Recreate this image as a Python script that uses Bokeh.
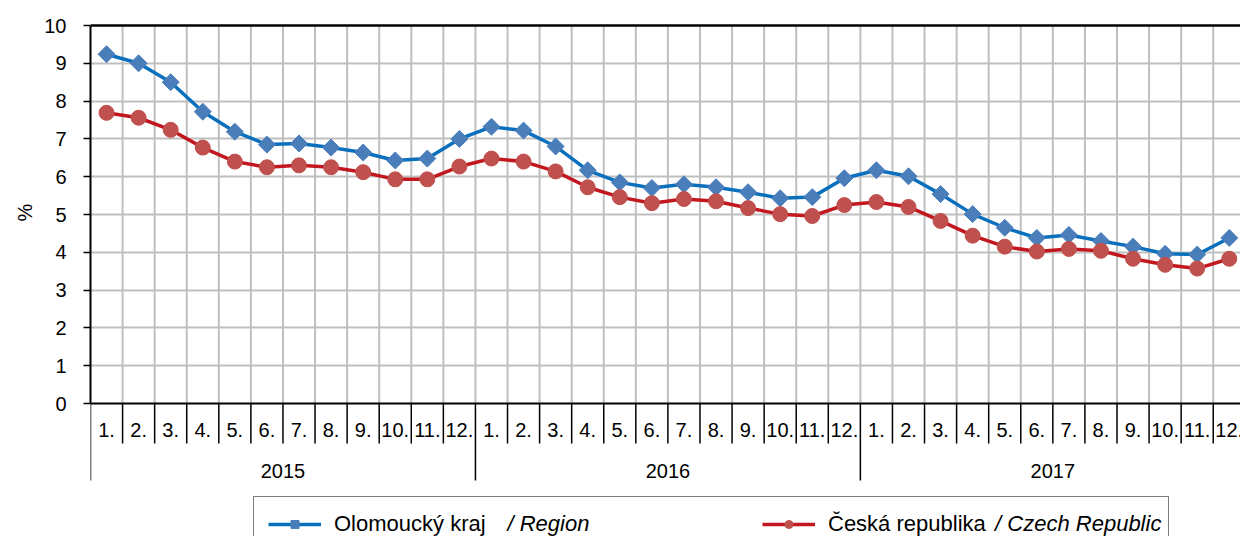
from bokeh.plotting import figure
from bokeh.models import (Range1d, FixedTicker, LinearAxis, ColumnDataSource, LabelSet,
                          Legend, LegendItem, Span, Grid, Title)
from bokeh.embed import file_html
from bokeh.resources import INLINE
from bokeh.core.properties import value
import math

# ---------------- data ----------------
years = ["2015", "2016", "2017"]
months = ["1.", "2.", "3.", "4.", "5.", "6.", "7.", "8.", "9.", "10.", "11.", "12."]

olomoucky = [9.24, 9.00, 8.50, 7.72, 7.19, 6.85, 6.88, 6.77, 6.64, 6.43, 6.48, 7.00,
             7.32, 7.22, 6.80, 6.17, 5.85, 5.70, 5.80, 5.72, 5.59, 5.43, 5.46, 5.96,
             6.17, 6.01, 5.54, 5.01, 4.65, 4.38, 4.46, 4.30, 4.15, 3.96, 3.94, 4.38]
ceska = [7.69, 7.56, 7.24, 6.77, 6.40, 6.25, 6.30, 6.25, 6.12, 5.93, 5.93, 6.27,
         6.48, 6.40, 6.14, 5.72, 5.46, 5.30, 5.41, 5.35, 5.17, 5.01, 4.96, 5.25,
         5.33, 5.20, 4.83, 4.44, 4.15, 4.02, 4.09, 4.04, 3.83, 3.67, 3.57, 3.83]

series_names = ["Olomoucký kraj  ", "Česká republika  "]
series_notes = ["/ Region", "/ Czech Republic"]
y_label = "%"

FONT = "Liberation Sans"
BLUE_LINE = "#0A70BE"
BLUE_MARK = "#4A7EBB"
RED_LINE = "#C3171F"
RED_MARK = "#C0504D"
GRID = "#BFBFBF"

n = len(olomoucky)
idx = list(range(n))
PX = 37.8  # pixels per y unit (style constant for below-axis decorations)

p = figure(width=1240, height=536, output_backend="svg", toolbar_location=None,
           x_range=Range1d(-0.5, 35.35), y_range=Range1d(-3.518, 10.053),
           min_border_left=90, min_border_right=0, min_border_top=23, min_border_bottom=0,
           x_axis_type=None, y_axis_type=None)
p.outline_line_color = None
p.background_fill_color = "white"
p.border_fill_color = "white"

# y axis (only from 0 to 10)
yax = LinearAxis(ticker=FixedTicker(ticks=list(range(0, 11))), bounds=(0, 10))
yax.axis_line_color = "black"
yax.axis_line_width = 2
yax.major_tick_line_color = "black"
yax.major_tick_line_width = 1.5
yax.major_tick_out = 7
yax.major_tick_in = 0
yax.minor_tick_line_color = None
yax.major_label_text_font = FONT
yax.major_label_text_font_size = "20px"
yax.major_label_text_color = "black"
yax.major_label_standoff = 17
p.add_layout(yax, "left")

# y axis title, placed beside the middle of the 0..10 span
p.add_layout(Title(text=y_label, align="left", offset=315, standoff=12,
                   text_font=FONT, text_font_size="20px", text_font_style="normal",
                   text_color="black"), "left")

# horizontal grid
p.add_layout(Grid(dimension=1, ticker=FixedTicker(ticks=list(range(1, 10))),
                  grid_line_color=GRID, grid_line_width=2))

# vertical grid between months (0..10 only)
bounds_all = [i + 0.5 for i in range(n - 1)]
p.segment(x0=bounds_all, y0=[0] * len(bounds_all), x1=bounds_all, y1=[10] * len(bounds_all),
          line_color=GRID, line_width=2)

# category axis drawn below 0: month dividers and year dividers
year_bounds = [-0.5 + 12 * k for k in range(len(years) + 1)]
month_bounds = [b for b in bounds_all if b not in year_bounds]
m_len = 40 / PX
y_len = 77 / PX
p.segment(x0=month_bounds, y0=[0] * len(month_bounds), x1=month_bounds,
          y1=[-m_len] * len(month_bounds), line_color="black", line_width=1.5)
p.segment(x0=year_bounds, y0=[0] * len(year_bounds), x1=year_bounds,
          y1=[-y_len] * len(year_bounds), line_color="black", line_width=1.5)

p.add_layout(Span(location=0, dimension="width", line_color="black", line_width=2))
p.add_layout(Span(location=10, dimension="width", line_color="black", line_width=2.5))

# series
src = ColumnDataSource(dict(x=idx, a=olomoucky, b=ceska))
r_a_line = p.line("x", "a", source=src, line_color=BLUE_LINE, line_width=3.5)
r_a_mark = p.scatter("x", "a", source=src, marker="square", angle=math.pi / 4, size=12,
                     fill_color=BLUE_MARK, line_color=BLUE_MARK)
r_b_line = p.line("x", "b", source=src, line_color=RED_LINE, line_width=3.5)
r_b_mark = p.scatter("x", "b", source=src, marker="circle", size=15,
                     fill_color=RED_MARK, line_color=RED_MARK)

# month and year labels under the axis
mlab = ColumnDataSource(dict(x=idx, y=[-26 / PX] * n, t=[months[i % 12] for i in idx]))
p.add_layout(LabelSet(x="x", y="y", text="t", source=mlab, text_align="center",
                      text_baseline="middle", text_font=value(FONT),
                      text_font_size="20px", text_color="black"))
ylab = ColumnDataSource(dict(x=[12 * k + 5.5 for k in range(len(years))],
                             y=[-67 / PX] * len(years), t=years))
p.add_layout(LabelSet(x="x", y="y", text="t", source=ylab, text_align="center",
                      text_baseline="middle", text_font=value(FONT),
                      text_font_size="20px", text_color="black"))

# legend
legend = Legend(items=[LegendItem(label=series_names[0], renderers=[r_a_line, r_a_mark]),
                       LegendItem(label=series_names[1], renderers=[r_b_line, r_b_mark])],
                orientation="horizontal", location=(163, -16),
                glyph_width=53, glyph_height=20, label_standoff=13, label_width=326,
                label_height=20, spacing=102, padding=14, margin=0,
                label_text_font=FONT, label_text_font_size="22px",
                label_text_color="black", border_line_color="black",
                border_line_width=1.5, background_fill_color="white",
                background_fill_alpha=0)
p.add_layout(legend, "center")

notes_src = ColumnDataSource(dict(x=[12.5, 27.7], y=[-120 / PX] * 2, t=series_notes))
p.add_layout(LabelSet(x="x", y="y", text="t", source=notes_src, text_align="left",
                      text_baseline="middle", text_font=value(FONT),
                      text_font_size="22px", text_font_style="italic",
                      text_color="black"))

open("out.html", "w").write(file_html(p, INLINE))
